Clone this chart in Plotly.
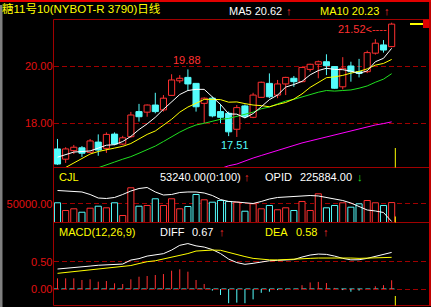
import plotly.graph_objects as go

W, H = 431, 307

# ---------------- data ----------------
opens  = [17.09, 16.73, 17.03, 17.13, 16.97, 17.33, 17.11, 17.61, 17.26, 17.52,
          18.40, 18.38, 18.63, 18.46, 18.97, 19.48, 19.60, 19.39, 18.69, 18.87,
          18.40, 18.34, 17.78, 18.60, 18.20, 18.90, 19.39, 18.98, 19.37, 19.57,
          19.45, 19.88, 20.06, 20.15, 19.98, 19.27, 20.00, 19.80, 19.80, 20.45,
          20.74, 20.68]
highs  = [17.44, 17.15, 17.23, 17.19, 17.44, 17.60, 17.67, 17.67, 17.55, 18.39,
          18.67, 18.65, 19.06, 18.98, 19.71, 19.68, 19.88, 19.40, 18.90, 18.92,
          18.67, 18.40, 18.63, 18.65, 19.06, 19.45, 19.74, 19.51, 19.62, 19.65,
          19.97, 20.08, 20.19, 20.41, 20.00, 20.31, 20.15, 20.25, 20.54, 20.94,
          20.91, 21.52]
lows   = [16.53, 16.60, 16.91, 16.81, 16.95, 16.85, 16.95, 17.22, 17.22, 17.48,
          18.05, 18.22, 18.34, 18.40, 18.95, 19.40, 19.13, 18.40, 17.99, 18.20,
          17.99, 17.54, 17.51, 18.17, 18.17, 18.88, 18.87, 18.87, 18.98, 19.27,
          19.43, 19.80, 19.57, 19.68, 19.20, 19.18, 19.45, 19.60, 19.75, 20.40,
          20.47, 20.66]
closes = [16.56, 17.09, 17.15, 16.94, 17.37, 17.05, 17.60, 17.26, 17.48, 18.28,
          18.22, 18.63, 18.40, 18.87, 19.51, 19.57, 19.37, 18.57, 18.87, 18.25,
          18.20, 17.69, 18.54, 18.22, 18.98, 19.43, 18.92, 19.37, 19.60, 19.45,
          19.95, 20.06, 20.15, 20.01, 19.22, 19.92, 19.80, 19.74, 20.47, 20.80,
          20.56, 21.47]

ma5  = [16.80, 16.90, 16.98, 17.00, 17.02, 17.12, 17.22, 17.24, 17.35, 17.53,
        17.77, 17.97, 18.20, 18.48, 18.73, 19.00, 19.14, 19.18, 19.18, 18.93,
        18.65, 18.32, 18.31, 18.18, 18.33, 18.57, 18.82, 18.98, 19.26, 19.35,
        19.46, 19.69, 19.84, 19.92, 19.88, 19.87, 19.82, 19.74, 19.83, 20.15,
        20.27, 20.62]
ma10 = [None, 16.44, 16.60, 16.77, 16.91, 17.00, 17.07, 17.12, 17.18, 17.28,
        17.44, 17.60, 17.72, 17.92, 18.13, 18.38, 18.56, 18.69, 18.83, 18.83,
        18.82, 18.73, 18.74, 18.68, 18.63, 18.61, 18.57, 18.65, 18.72, 18.84,
        19.02, 19.25, 19.41, 19.59, 19.62, 19.67, 19.75, 19.81, 19.90, 20.03,
        20.09, 20.23]
ma20 = [None, None, None, None, None, 16.43, 16.54, 16.63, 16.73, 16.82,
        16.94, 17.07, 17.19, 17.35, 17.53, 17.68, 17.82, 17.93, 17.99, 18.05,
        18.13, 18.16, 18.23, 18.30, 18.38, 18.50, 18.56, 18.67, 18.77, 18.83,
        18.92, 18.99, 19.08, 19.14, 19.12, 19.14, 19.16, 19.22, 19.30, 19.43,
        19.54, 19.73]
ma60 = [None] * 20 + [16.40, 16.50, 16.56, 16.67, 16.77, 16.86, 16.95, 17.05, 17.14, 17.23,
                      17.30, 17.37, 17.44, 17.53, 17.60, 17.67, 17.74, 17.81, 17.88, 17.93,
                      17.98, 18.04]

volumes = [52700, 32100, 36600, 27500, 38200, 43600, 39300, 52700, 18700, 92800,
           43600, 45500, 63400, 45500, 63400, 36600, 42800, 74900, 60700, 54300,
           58800, 56200, 54300, 30200, 50000, 36600, 45500, 34000, 39300, 32100,
           56200, 32100, 76700, 39300, 45500, 52700, 40900, 50000, 58800, 52700,
           45500, 53240]
cjl_line = [85600, 84200, 82900, 81600, 74900, 65500, 64200, 66900, 74900, 84200,
            90900, 93600, 81600, 73500, 74900, 80200, 81600, 81600, 78900, 72200,
            61500, 56200, 54800, 53500, 50800, 56200, 62800, 66900, 68200, 68200,
            69500, 72200, 70900, 66900, 64200, 58800, 52100, 42800, 33400, 30800,
            26700, 2700]

diff = [0.366, 0.377, 0.388, 0.406, 0.420, 0.435, 0.446, 0.452, 0.457, 0.530,
        0.556, 0.603, 0.631, 0.647, 0.713, 0.800, 0.832, 0.790, 0.768, 0.722,
        0.649, 0.548, 0.484, 0.452, 0.470, 0.494, 0.517, 0.525, 0.530, 0.539,
        0.585, 0.622, 0.640, 0.634, 0.603, 0.561, 0.534, 0.536, 0.561, 0.600,
        0.640, 0.670]
dea  = [0.287, 0.302, 0.320, 0.336, 0.351, 0.366, 0.375, 0.388, 0.402, 0.430,
        0.466, 0.500, 0.517, 0.547, 0.585, 0.612, 0.649, 0.695, 0.709, 0.713,
        0.709, 0.667, 0.631, 0.594, 0.561, 0.543, 0.534, 0.532, 0.536, 0.543,
        0.552, 0.561, 0.567, 0.570, 0.570, 0.570, 0.567, 0.561, 0.565, 0.572,
        0.576, 0.580]
macd = [0.195, 0.195, 0.195, 0.165, 0.177, 0.134, 0.146, 0.104, 0.091, 0.177,
        0.225, 0.238, 0.256, 0.274, 0.335, 0.360, 0.317, 0.165, 0.091, -0.03,
        -0.11, -0.26, -0.25, -0.26, -0.19, -0.07, -0.05, -0.02, -0.01, 0.0,
        0.07, 0.12, 0.13, 0.11, 0.02, -0.02, -0.05, -0.03, 0.0, 0.05,
        0.07, 0.16]

price_ticks = [18.0, 20.0]
vol_ticks = [50000]
macd_ticks = [0.0, 0.5]

title_text = "糖11号10(NYBOT-R 3790)日线"
marked_high_idx = 16
marked_low_idx = 22
cjl_value = "53240.00(0:100)"
opid_value = "225884.00"

# ---------------- styles ----------------
RED = '#ff3030'
CYAN = '#54fcfc'
WHITE = '#ffffff'
YELLOW = '#ffff00'
GREEN = '#20e020'
MAGENTA = '#ff00ff'
GRID = '#a00000'
BORDER = '#a00000'
LABEL = '#e01010'
FONT = 'Liberation Sans, Arial, Noto Sans CJK SC, sans-serif'


def pxx(p):
    return p / W


def pxy(p):
    return 1 - p / H


n = len(closes)
idx = list(range(n))
up = [c >= o for o, c in zip(opens, closes)]

fig = go.Figure()


# wicks (split around the body so hollow bodies stay hollow)
def wicks(sel, color):
    xs, ys = [], []
    for i in sel:
        top = max(opens[i], closes[i])
        bot = min(opens[i], closes[i])
        xs += [i, i, None, i, i, None]
        ys += [highs[i], top, None, bot, lows[i], None]
    return go.Scatter(x=xs, y=ys, mode='lines', line=dict(color=color, width=1),
                      hoverinfo='skip', xaxis='x', yaxis='y')


up_idx = [i for i in idx if up[i]]
dn_idx = [i for i in idx if not up[i]]
fig.add_trace(wicks(up_idx, RED))
fig.add_trace(wicks(dn_idx, CYAN))

BW = 0.75
fig.add_trace(go.Bar(x=up_idx, y=[closes[i] - opens[i] for i in up_idx],
                     base=[opens[i] for i in up_idx], width=BW,
                     marker=dict(color='black', line=dict(color=RED, width=1)),
                     xaxis='x', yaxis='y', hoverinfo='skip'))
fig.add_trace(go.Bar(x=dn_idx, y=[opens[i] - closes[i] for i in dn_idx],
                     base=[closes[i] for i in dn_idx], width=BW,
                     marker=dict(color=CYAN, line=dict(color=CYAN, width=1)),
                     xaxis='x', yaxis='y', hoverinfo='skip'))

for series, col in [(ma60, MAGENTA), (ma20, GREEN), (ma10, YELLOW), (ma5, WHITE)]:
    fig.add_trace(go.Scatter(x=idx, y=series, mode='lines', line=dict(color=col, width=1),
                             connectgaps=False, xaxis='x', yaxis='y', hoverinfo='skip'))

# volume
fig.add_trace(go.Bar(x=idx, y=volumes, width=BW,
                     marker=dict(color='black',
                                 line=dict(color=[RED if u else CYAN for u in up], width=1)),
                     xaxis='x', yaxis='y2', hoverinfo='skip'))
fig.add_trace(go.Scatter(x=idx, y=cjl_line, mode='lines', line=dict(color=WHITE, width=1),
                         xaxis='x', yaxis='y2', hoverinfo='skip'))

# MACD
fig.add_shape(type='line', xref='x', yref='y3', x0=-0.5, x1=n - 0.5, y0=0, y1=0,
              line=dict(color=CYAN, width=1, dash='5px,3px'), layer='below')
for sign, col in [(1, RED), (-1, CYAN)]:
    xs, ys = [], []
    for i, v in enumerate(macd):
        if v * sign > 0:
            xs += [i, i, None]
            ys += [0, v, None]
    fig.add_trace(go.Scatter(x=xs, y=ys, mode='lines', line=dict(color=col, width=1),
                             xaxis='x', yaxis='y3', hoverinfo='skip'))
fig.add_trace(go.Scatter(x=idx, y=diff, mode='lines', line=dict(color=WHITE, width=1),
                         xaxis='x', yaxis='y3', hoverinfo='skip'))
fig.add_trace(go.Scatter(x=idx, y=dea, mode='lines', line=dict(color=YELLOW, width=1),
                         xaxis='x', yaxis='y3', hoverinfo='skip'))

# ---------------- axes ----------------
X_LEFT, X_RIGHT = 53.5, 429
x0_data = -(57.5 - X_LEFT) / 8.15
x1_data = (X_RIGHT - 57.5) / 8.15

ycommon = dict(showgrid=True, gridcolor=GRID, gridwidth=1, griddash='5px,3px',
               zeroline=False, showline=False, ticks='', anchor='x',
               tickfont=dict(family=FONT, size=11, color=LABEL), fixedrange=True)

P_TOP, P_MAIN_BOT, P_VOL_BOT, P_MACD_BOT = 19.5, 167.5, 222.5, 305.5
price_per_px = 2.0 / 57.0
vol_per_px = 50000 / 18.7
macd_per_px = 0.5 / 27.3

fig.update_layout(
    width=W, height=H, margin=dict(l=0, r=0, t=0, b=0),
    paper_bgcolor='black', plot_bgcolor='black', showlegend=False,
    barmode='overlay', hovermode=False,
    xaxis=dict(domain=[pxx(X_LEFT), pxx(X_RIGHT)], range=[x0_data, x1_data],
               visible=False, anchor='y3', fixedrange=True),
    yaxis=dict(domain=[pxy(P_MAIN_BOT), pxy(P_TOP)],
               range=[20 - (P_MAIN_BOT - 66) * price_per_px, 20 + (66 - P_TOP) * price_per_px],
               tickvals=price_ticks, ticktext=[f'{v:.2f}' for v in price_ticks], **ycommon),
    yaxis2=dict(domain=[pxy(P_VOL_BOT), pxy(P_MAIN_BOT)],
                range=[0, (P_VOL_BOT - P_MAIN_BOT) * vol_per_px],
                tickvals=vol_ticks, ticktext=[f'{v:.2f}' for v in vol_ticks], **ycommon),
    yaxis3=dict(domain=[pxy(P_MACD_BOT), pxy(P_VOL_BOT)],
                range=[-(P_MACD_BOT - 289) * macd_per_px, (289 - P_VOL_BOT) * macd_per_px],
                tickvals=macd_ticks, ticktext=[f'{v:.2f}' for v in macd_ticks], **ycommon),
)

# ---------------- frame shapes ----------------
shapes = []
# top red band
shapes.append(dict(type='rect', xref='paper', yref='paper', x0=0, x1=1, y0=pxy(2), y1=1,
                   fillcolor='#e00000', line=dict(width=0)))
# left gray strip
shapes.append(dict(type='rect', xref='paper', yref='paper', x0=0, x1=pxx(2.5), y0=0, y1=pxy(5),
                   fillcolor='#808080', line=dict(width=0)))
# right red edge
shapes.append(dict(type='rect', xref='paper', yref='paper', x0=pxx(429), x1=1, y0=pxy(306), y1=pxy(2),
                   fillcolor='#c00000', line=dict(width=0)))
for yy in [P_TOP, P_MAIN_BOT, P_VOL_BOT, P_MACD_BOT]:
    shapes.append(dict(type='line', xref='paper', yref='paper', x0=pxx(X_LEFT), x1=pxx(429),
                       y0=pxy(yy), y1=pxy(yy), line=dict(color=BORDER, width=1)))
shapes.append(dict(type='line', xref='paper', yref='paper', x0=pxx(X_LEFT), x1=pxx(X_LEFT),
                   y0=pxy(P_MACD_BOT), y1=pxy(P_TOP), line=dict(color=BORDER, width=1)))
# last close marker on the right edge
shapes.append(dict(type='line', xref='paper', yref='y', x0=pxx(410), x1=pxx(429),
                   y0=closes[-1], y1=closes[-1], line=dict(color=YELLOW, width=2)))
shapes.append(dict(type='rect', xref='paper', yref='paper', x0=pxx(423), x1=pxx(429),
                   y0=pxy(28), y1=pxy(P_TOP), fillcolor='#e00000', line=dict(width=0)))
# yellow "today" markers at the right of the last bar
xm = n - 1 + 0.45
for a, b in [(148, P_MAIN_BOT), (216.5, P_VOL_BOT), (296, P_MACD_BOT)]:
    shapes.append(dict(type='line', xref='x', yref='paper', x0=xm, x1=xm,
                       y0=pxy(b), y1=pxy(a), line=dict(color=YELLOW, width=1)))
for s in shapes:
    fig.add_shape(**s)


# ---------------- texts ----------------
def label(px, py, text, color, size=11, anchor='left'):
    fig.add_annotation(x=pxx(px), y=pxy(py), xref='paper', yref='paper', text=text,
                       showarrow=False, xanchor=anchor, yanchor='middle', borderpad=0,
                       font=dict(family=FONT, size=size, color=color))


label(1, 8, title_text, YELLOW, size=11.5)
label(228, 11, f'MA5 {ma5[-1]:.2f}', WHITE)
label(285, 11, '↑', RED)
label(319, 11, f'MA10 {ma10[-1]:.2f}', YELLOW)
label(383, 11, '↑', RED)

label(58, 177, 'CJL', YELLOW)
label(159, 177, cjl_value, WHITE)
label(243, 177, '↑', RED)
label(264, 177, 'OPID', WHITE)
label(299, 177, opid_value, WHITE)
label(356, 177, '↓', GREEN)

label(58, 232, 'MACD(12,26,9)', YELLOW)
label(159, 232, 'DIFF', WHITE)
label(191, 232, f'{diff[-1]:.2f}', WHITE)
label(218, 232, '↑', RED)
label(264, 232, 'DEA', YELLOW)
label(295, 232, f'{dea[-1]:.2f}', YELLOW)
label(322, 232, '↑', RED)

# high / low marks on the price panel
top_idx = max(idx, key=lambda i: highs[i])
fig.add_annotation(x=top_idx, y=highs[top_idx], xref='x', yref='y', text=f'{highs[top_idx]:.2f}<----',
                   showarrow=False, xanchor='right', yanchor='middle', xshift=-4, yshift=-6,
                   borderpad=0, font=dict(family=FONT, size=11, color=RED))
fig.add_annotation(x=marked_high_idx, y=highs[marked_high_idx], xref='x', yref='y',
                   text=f'{highs[marked_high_idx]:.2f}', showarrow=False, xanchor='center',
                   yanchor='middle', xshift=-1, yshift=9, borderpad=0,
                   font=dict(family=FONT, size=11, color=RED))
fig.add_annotation(x=marked_low_idx, y=lows[marked_low_idx], xref='x', yref='y',
                   text=f'{lows[marked_low_idx]:.2f}', showarrow=False, xanchor='center',
                   yanchor='middle', xshift=-2, yshift=-8, borderpad=0,
                   font=dict(family=FONT, size=11, color=CYAN))

fig.write_html("out.html")
